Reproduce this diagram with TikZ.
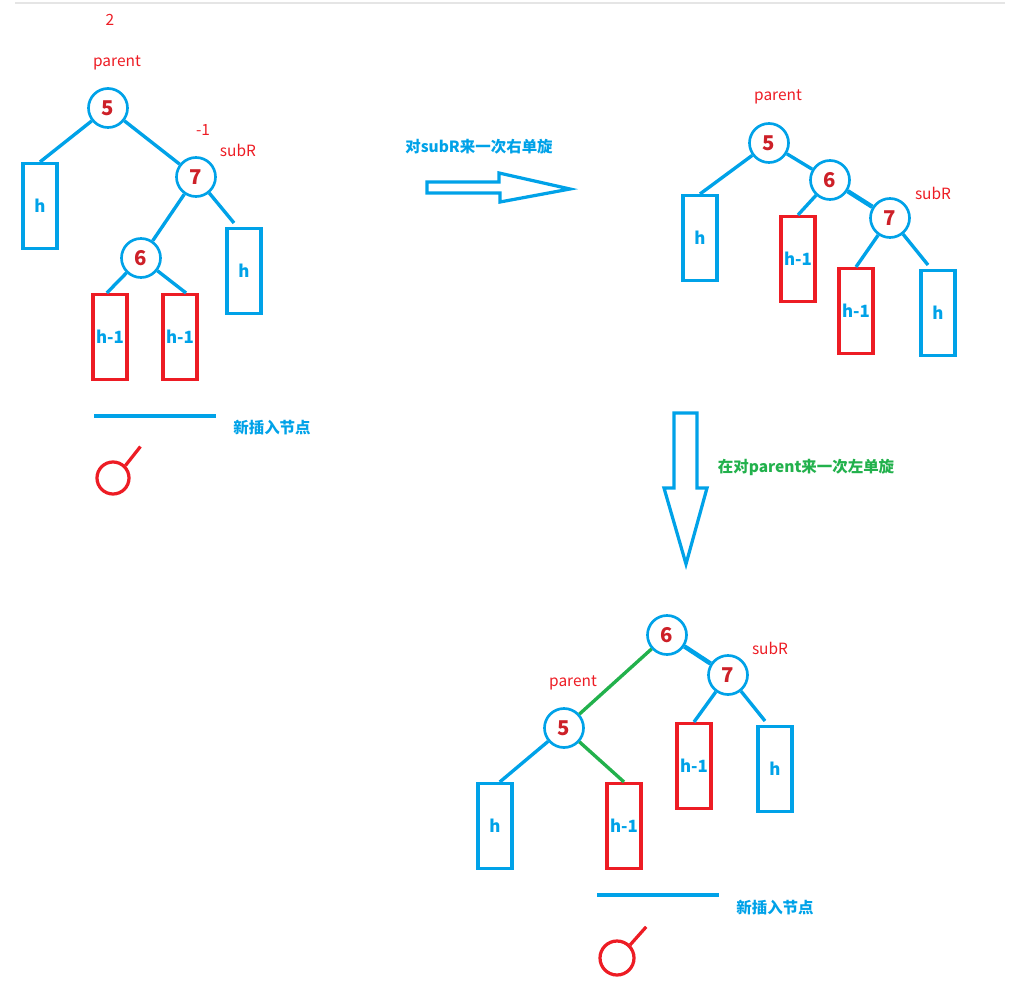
\documentclass[tikz,border=0pt]{standalone}
\usepackage{fontspec}
\setmainfont{Noto Sans CJK SC}
\definecolor{pblue}{RGB}{0,162,232}
\definecolor{pred}{RGB}{237,28,36}
\definecolor{pgreen}{RGB}{34,177,76}
\definecolor{numred}{RGB}{205,32,40}

\begin{document}
\begin{tikzpicture}[x=0.025cm, y=-0.025cm,
  num/.style={draw=pblue, circle, line width=1.9pt, minimum size=0.975cm, inner sep=0pt,
              text=numred, font=\fontsize{14.5}{16}\selectfont\bfseries},
  hbox/.style={draw=pblue, line width=2.3pt, minimum width=0.85cm, minimum height=2.12cm,
               inner sep=0pt, text=pblue, font=\fontsize{12}{14}\selectfont\bfseries},
  rbox/.style={hbox, draw=pred},
  edge/.style={draw=pblue, line width=2.4pt},
  gedge/.style={draw=pgreen, line width=2.4pt},
  tag/.style={text=pred, font=\fontsize{11}{13}\selectfont},
  note/.style={font=\fontsize{11}{13}\selectfont\bfseries},
  newnode/.style={draw=pred, circle, line width=2.3pt, minimum size=0.8cm, inner sep=0pt},
  fat/.style={draw=pblue, line width=2.3pt, line join=miter}]

\useasboundingbox (0,0) rectangle (1013,991);
\draw[gray!20, line width=1pt] (15,3) -- (1005,3);

% =================================================================================
% PANEL 1: after the insertion
% =================================================================================
\node[num]  (a5) at (108,108) {5};
\node[num]  (a7) at (196,177) {7};
\node[num]  (a6) at (141,258) {6};
\node[hbox] (ah1) at (40,206)  {h};
\node[hbox] (ah2) at (244,271) {h};
\node[rbox] (ar1) at (110,337) {h-1};
\node[rbox] (ar2) at (180,337) {h-1};

\node[tag] at (110,20)  {2};
\node[tag] at (117,63)  {parent};
\node[tag] at (203,130) {-1};
\node[tag] at (238,150) {subR};

\draw[edge] (a5) -- (ah1.north);
\draw[edge] (a5) -- (a7);
\draw[edge] (a7) -- (a6);
\draw[edge] (a7) -- ([xshift=-0.25cm, yshift=0.1cm]ah2.north);
\draw[edge] (a6) -- ([xshift=-0.08cm]ar1.north);
\draw[edge] (a6) -- ([xshift=0.15cm]ar2.north);

\coordinate (abar1) at (94,416);
\coordinate (abar2) at (216,416);
\draw[edge] (abar1) -- (abar2);
\node[note, text=pblue] (anote) at (272,428) {新插入节点};
\node[newnode] (anew) at (113,478) {};
\draw[pred, line width=2.3pt] (anew.north east) -- ++(15,-19);

% =================================================================================
% first step: right rotation at subR
% =================================================================================
\node[note, text=pblue] (step1) at (479,147) {对subR来一次右单旋};
\draw[fat] (427,182) -- (499,182) -- (499,173) -- (570,189) -- (500,202)
  -- (500,193) -- (427,193) -- cycle;

% =================================================================================
% PANEL 2: after the right rotation
% =================================================================================
\node[num]  (b5) at (769,143) {5};
\node[num]  (b6) at (830,180) {6};
\node[num]  (b7) at (890,218) {7};
\node[hbox] (bh1) at (700,238) {h};
\node[rbox] (br1) at (798,259) {h-1};
\node[rbox] (br2) at (856,311) {h-1};
\node[hbox] (bh2) at (938,313) {h};

\node[tag] at (778,97)  {parent};
\node[tag] at (933,193) {subR};

\draw[edge] (b5) -- (bh1.north);
\draw[edge] (b5) -- (b6);
\draw[edge, line width=3.2pt] (b6) -- (b7);
\draw[edge] (b6) -- (br1.north);
\draw[edge] (b7) -- (br2.north);
\draw[edge] (b7) -- ([xshift=-0.25cm, yshift=0.1cm]bh2.north);

% =================================================================================
% second step: left rotation at parent
% =================================================================================
\draw[fat] (674,413) -- (697,413) -- (697,488) -- (707,488) -- (686,564)
  -- (664,488) -- (674,488) -- cycle;
\node[note, text=pgreen] (step2) at (806,467) {在对parent来一次左单旋};

% =================================================================================
% PANEL 3: after the left rotation
% =================================================================================
\node[num]  (c6) at (667,635) {6};
\node[num]  (c7) at (728,675) {7};
\node[num]  (c5) at (564,728) {5};
\node[hbox] (ch1) at (495,826) {h};
\node[rbox] (cr1) at (624,826) {h-1};
\node[rbox] (cr2) at (694,766) {h-1};
\node[hbox] (ch2) at (775,769) {h};

\node[tag] at (770,648) {subR};
\node[tag] at (573,683) {parent};

\draw[gedge] (c6) -- (c5);
\draw[gedge] (c5) -- (cr1.north);
\draw[edge, line width=3.2pt] (c6) -- (c7);
\draw[edge] (c5) -- ([xshift=0.12cm]ch1.north);
\draw[edge] (c7) -- (cr2.north);
\draw[edge] (c7) -- ([xshift=-0.25cm, yshift=0.1cm]ch2.north);

\coordinate (cbar1) at (597,895);
\coordinate (cbar2) at (719,895);
\draw[edge] (cbar1) -- (cbar2);
\node[note, text=pblue] (cnote) at (775,908) {新插入节点};
\node[newnode, minimum size=0.85cm] (cnew) at (617,958) {};
\draw[pred, line width=2.3pt] (cnew.north east) -- ++(16,-18);

\end{tikzpicture}
\end{document}
